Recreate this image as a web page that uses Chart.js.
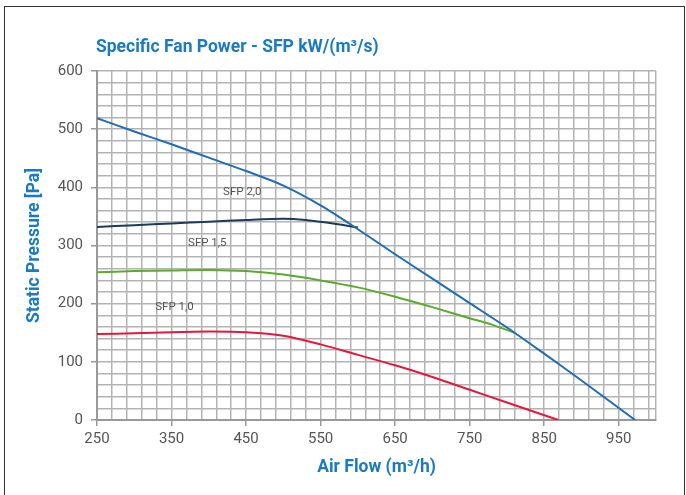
<!DOCTYPE html>
<html>
<head>
<meta charset="utf-8">
<script src="https://cdn.jsdelivr.net/npm/chart.js@4"></script>
<style>
body { margin: 0; background: #fff; }
#wrap { position: relative; width: 686px; height: 495px; overflow: hidden; }
#frame { position: absolute; left: 4px; top: 6px; width: 679px; height: 520px; border: 1.5px solid #333; }
#title { position: absolute; left: 96px; top: 38px; font: bold 17.5px Roboto, sans-serif; line-height: 17px; color: #1a7bc0; white-space: nowrap; }
canvas { position: absolute; left: 0; top: 0; }
</style>
</head>
<body>
<div id="wrap">
  <div id="frame"></div>
  <canvas id="sfpChart" width="686" height="495"></canvas>
  <div id="title">Specific Fan Power - SFP kW/(m³/s)</div>
</div>
<script>
// tick labels
const xTicks = [250, 350, 450, 550, 650, 750, 850, 950];
const yTicks = [0, 100, 200, 300, 400, 500, 600];

// fan curve
const fanFlow = [250, 300, 350, 400, 450, 500, 550, 600, 650, 700, 750, 800, 850, 900, 972];
const fanPressure = [519, 496, 474, 451, 428, 403, 369, 328, 285, 243, 201, 159, 114, 68, 0];

// SFP 2,0
const sfp20Flow = [250, 300, 350, 400, 450, 500, 530, 560, 600];
const sfp20Pressure = [332, 335, 338, 341, 344, 346, 344, 339, 331];

// SFP 1,5
const sfp15Flow = [250, 300, 350, 400, 450, 500, 550, 600, 650, 700, 750, 780, 810];
const sfp15Pressure = [254, 256, 257, 258, 256, 250, 240, 228, 212, 194, 175, 164, 150];

// SFP 1,0
const sfp10Flow = [250, 300, 350, 400, 450, 500, 550, 600, 650, 700, 750, 800, 869];
const sfp10Pressure = [148, 149, 151, 152, 151, 145, 130, 112, 94, 74, 52, 30, 0];

// curve labels
const curveLabels = ['SFP 2,0', 'SFP 1,5', 'SFP 1,0'];
const labelFlow = [445, 398, 354];
const labelPressure = [391, 304, 194];

const toPoints = (xs, ys) => xs.map((x, i) => ({ x: x, y: ys[i] }));

const gridX = [];
for (let v = 250; v < 1000; v += 20) gridX.push(v);
gridX.push(1000);

const labelPlugin = {
    id: 'curveLabels',
    afterDatasetsDraw(chart) {
        const c = chart.ctx;
        const sx = chart.scales.x, sy = chart.scales.y;
        c.save();
        c.font = '11.5px Roboto, sans-serif';
        c.fillStyle = '#555';
        c.textAlign = 'center';
        c.textBaseline = 'middle';
        curveLabels.forEach((t, i) => {
            c.fillText(t, sx.getPixelForValue(labelFlow[i]), sy.getPixelForValue(labelPressure[i]));
        });
        c.restore();
    }
};

const line = (data, color) => ({
    data: data,
    borderColor: color,
    borderWidth: 2,
    pointRadius: 0,
    tension: 0.3,
    fill: false
});

new Chart(document.getElementById('sfpChart'), {
    type: 'line',
    data: {
        datasets: [
            line(toPoints(fanFlow, fanPressure), '#1f6db5'),
            line(toPoints(sfp20Flow, sfp20Pressure), '#1c3a5a'),
            line(toPoints(sfp15Flow, sfp15Pressure), '#5aab2e'),
            line(toPoints(sfp10Flow, sfp10Pressure), '#e5173f')
        ]
    },
    options: {
        responsive: false,
        animation: false,
        layout: { padding: { left: 0, right: 30, top: 71, bottom: 0 } },
        plugins: {
            legend: { display: false },
            tooltip: { enabled: false }
        },
        scales: {
            x: {
                type: 'linear',
                min: 250,
                max: 1000,
                afterBuildTicks: s => { s.ticks = gridX.map(v => ({ value: v })); },
                afterFit: s => { s.height = 75; },
                ticks: {
                    autoSkip: false,
                    maxRotation: 0,
                    padding: 4,
                    color: '#555',
                    font: { family: 'Roboto', size: 15 },
                    callback: v => xTicks.includes(v) ? v : ''
                },
                grid: {
                    color: '#b3b3b3',
                    lineWidth: 1.5,
                    tickLength: 6,
                    tickColor: c => c.tick && xTicks.includes(c.tick.value) ? '#999' : 'transparent'
                },
                border: { color: '#999', width: 2 },
                title: {
                    display: true,
                    text: 'Air Flow (m³/h)',
                    color: '#1a7bc0',
                    font: { family: 'Roboto', size: 17.5, weight: 'bold' },
                    padding: { top: 0, bottom: 17 }
                }
            },
            y: {
                min: 0,
                max: 600,
                afterFit: s => { s.width = 97; },
                ticks: {
                    stepSize: 20,
                    autoSkip: false,
                    padding: 8,
                    color: '#555',
                    font: { family: 'Roboto', size: 15 },
                    callback: v => yTicks.includes(v) ? v : ''
                },
                grid: {
                    color: '#b3b3b3',
                    lineWidth: 1.5,
                    tickLength: 6,
                    tickColor: c => c.tick && yTicks.includes(c.tick.value) ? '#999' : 'transparent'
                },
                border: { color: '#999', width: 2 },
                title: {
                    display: true,
                    text: 'Static Pressure [Pa]',
                    color: '#1a7bc0',
                    font: { family: 'Roboto', size: 17.5, weight: 'bold' },
                    padding: { top: 24, bottom: 0 }
                }
            }
        }
    },
    plugins: [labelPlugin]
});
</script>
</body>
</html>
